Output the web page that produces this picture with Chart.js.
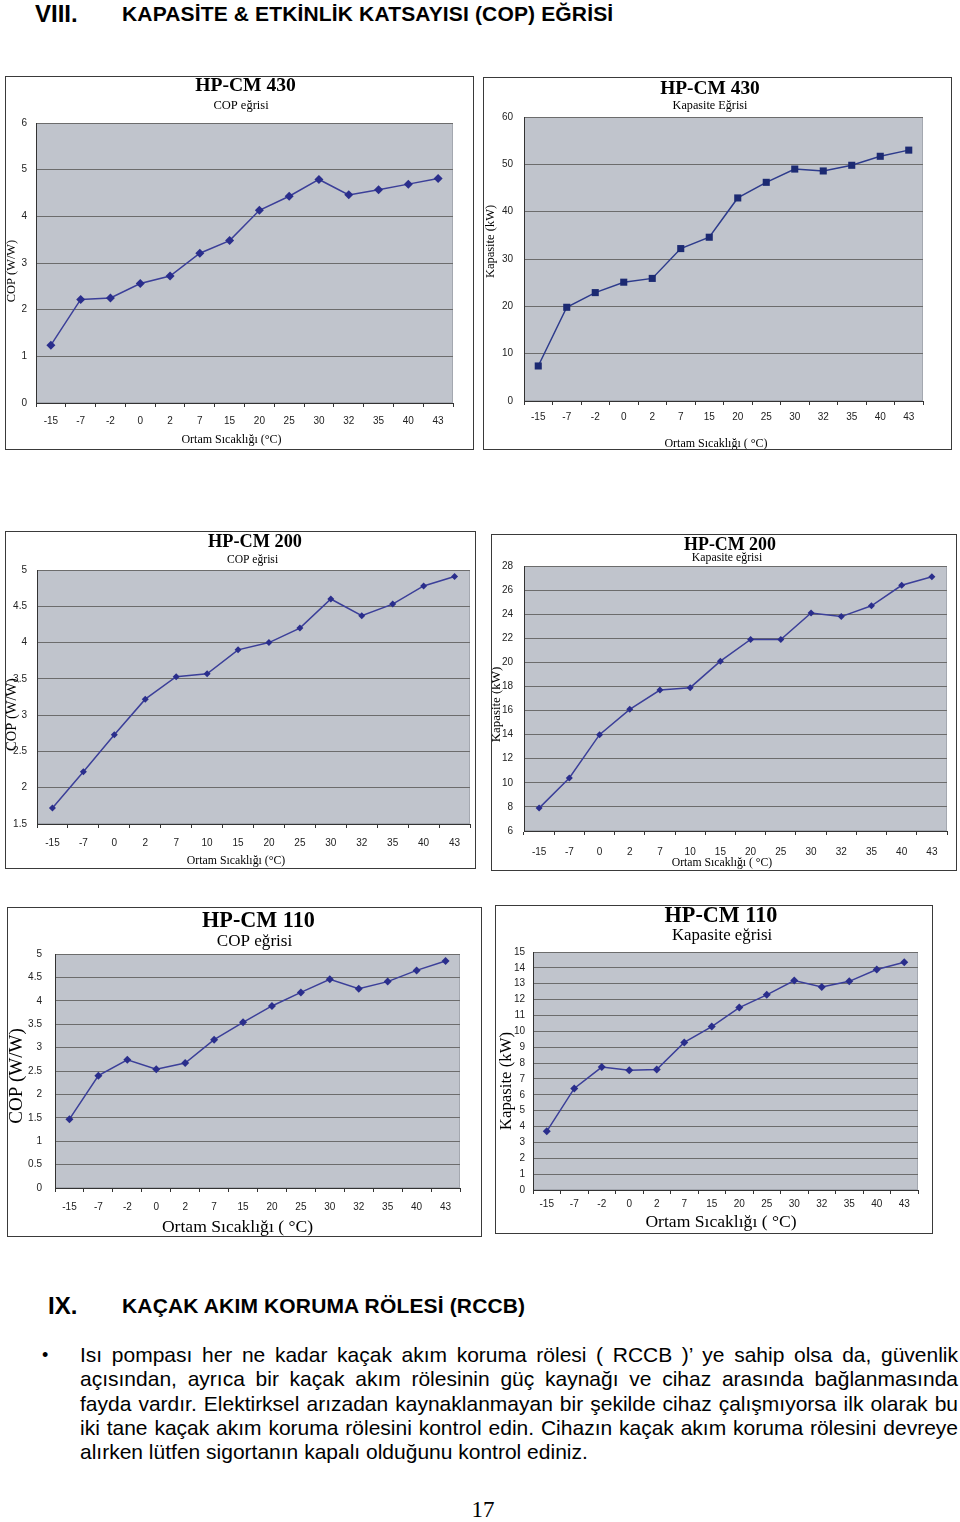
<!DOCTYPE html>
<html lang="tr">
<head>
<meta charset="utf-8">
<title>Kapasite & COP eğrisi</title>
<script src="https://cdn.jsdelivr.net/npm/chart.js@4.4.1/dist/chart.umd.min.js"></script>
<style>
  html, body { margin: 0; padding: 0; background: #fff; }
  #page { position: relative; width: 960px; height: 1522px; overflow: hidden; color: #000; }
  .frame { position: absolute; border: 1px solid #3a3a3a; background: #fff; box-sizing: border-box; }
  .frame canvas { display: block; }
  .head { position: absolute; font-family: "Liberation Sans", Arial, sans-serif; font-weight: bold; white-space: nowrap; }
  .para { position: absolute; left: 80px; top: 1343px; width: 878px;
          font-family: "Liberation Sans", Arial, sans-serif; font-size: 21px; line-height: 24.3px; }
  .para div { text-align: justify; text-align-last: justify; white-space: nowrap; }
  .para div.last { text-align-last: left; }
  .bullet { position: absolute; left: 42px; top: 1343px; font-family: "Liberation Sans", sans-serif; font-size: 18px; line-height: 24.3px; }
  .pageno { position: absolute; left: 0; width: 966px; top: 1497px; text-align: center; font-family: "Liberation Serif", serif; font-size: 23px; }
</style>
</head>
<body>
<div id="page">
  <div class="head" style="left:35px; top:0px; font-size:24px;">VIII.</div>
  <div class="head" style="left:122px; top:2px; font-size:21px; letter-spacing:0.15px;">KAPASİTE &amp; ETKİNLİK KATSAYISI (COP) EĞRİSİ</div>

  <div class="frame" id="f1"><canvas id="c1"></canvas></div>
  <div class="frame" id="f2"><canvas id="c2"></canvas></div>
  <div class="frame" id="f3"><canvas id="c3"></canvas></div>
  <div class="frame" id="f4"><canvas id="c4"></canvas></div>
  <div class="frame" id="f5"><canvas id="c5"></canvas></div>
  <div class="frame" id="f6"><canvas id="c6"></canvas></div>

  <div class="head" style="left:48px; top:1292px; font-size:24px;">IX.</div>
  <div class="head" style="left:122px; top:1294px; font-size:21px; letter-spacing:0.15px;">KAÇAK AKIM KORUMA RÖLESİ (RCCB)</div>

  <div class="bullet">•</div>
  <div class="para">
    <div>Isı pompası her ne kadar kaçak akım koruma rölesi ( RCCB )’ ye sahip olsa da, güvenlik</div>
    <div>açısından, ayrıca bir kaçak akım rölesinin güç kaynağı ve cihaz arasında bağlanmasında</div>
    <div>fayda vardır. Elektirksel arızadan kaynaklanmayan bir şekilde cihaz çalışmıyorsa ilk olarak bu</div>
    <div>iki tane kaçak akım koruma rölesini kontrol edin. Cihazın kaçak akım koruma rölesini devreye</div>
    <div class="last">alırken lütfen sigortanın kapalı olduğunu kontrol ediniz.</div>
  </div>
  <div class="pageno">17</div>
</div>

<script>
// ortam sıcaklıkları (x ekseni)
const tempsA = ['-15', '-7', '-2', '0', '2', '7', '15', '20', '25', '30', '32', '35', '40', '43'];
const tempsB = ['-15', '-7', '0', '2', '7', '10', '15', '20', '25', '30', '32', '35', '40', '43'];

// HP-CM 430
const cop430 = [1.24, 2.22, 2.25, 2.56, 2.72, 3.21, 3.48, 4.13, 4.43, 4.79, 4.46, 4.57, 4.69, 4.81];
const cap430 = [7.4, 19.8, 22.9, 25.1, 25.9, 32.2, 34.6, 42.9, 46.2, 49.0, 48.6, 49.8, 51.7, 53.0];

// HP-CM 200
const cop200 = [1.72, 2.22, 2.73, 3.22, 3.53, 3.57, 3.90, 4.00, 4.20, 4.60, 4.37, 4.53, 4.78, 4.91];
const cap200 = [7.9, 10.4, 14.0, 16.1, 17.7, 17.9, 20.1, 21.9, 21.9, 24.1, 23.8, 24.7, 26.4, 27.1];

// HP-CM 110
const cop110 = [1.47, 2.40, 2.74, 2.54, 2.67, 3.17, 3.54, 3.89, 4.18, 4.46, 4.26, 4.41, 4.65, 4.85];
const cap110 = [3.7, 6.4, 7.75, 7.55, 7.6, 9.3, 10.3, 11.5, 12.3, 13.2, 12.8, 13.15, 13.9, 14.35];

const SERIF = '"Liberation Serif", "Times New Roman", serif';
const SANS = '"Liberation Sans", Arial, sans-serif';

// gri çizim alanı
const plotBg = {
  id: 'plotBg',
  beforeDraw(chart) {
    const { ctx, chartArea: a } = chart;
    ctx.save();
    ctx.fillStyle = '#c0c4cc';
    ctx.fillRect(a.left, a.top, a.width, a.height);
    ctx.strokeStyle = '#a4a8b0';
    ctx.lineWidth = 1;
    ctx.strokeRect(a.left + 0.5, a.top + 0.5, a.width - 1, a.height - 1);
    ctx.restore();
  }
};

// başlık ve eksen yazıları (orijinaldeki gibi tam ortalanmamış)
const frameTexts = {
  id: 'frameTexts',
  afterDraw(chart, args, opts) {
    const { ctx } = chart;
    ctx.save();
    ctx.fillStyle = '#000';
    ctx.textAlign = 'center';
    ctx.textBaseline = 'middle';
    opts.items.forEach(t => {
      ctx.font = (t.bold ? 'bold ' : '') + t.size + 'px ' + SERIF;
      ctx.save();
      ctx.translate(t.x - opts.ox, t.y - opts.oy);
      if (t.rot) ctx.rotate(-Math.PI / 2);
      ctx.fillText(t.text, 0, 0);
      ctx.restore();
    });
    ctx.restore();
  }
};

const fmt = v => String(+Number(v).toFixed(2));

const specs = [
  { id: 'c1', frame: 'f1', box: [5, 76, 469, 374], plot: [36, 123, 453, 403],
    labels: tempsA, values: cop430, y: [0, 6, 1],
    title: ['HP-CM 430', 245.5, 86, 19.6], sub: ['COP eğrisi', 241, 106, 12.5],
    yTitle: ['COP (W/W)', 12, 271, 12.4], xTitle: ['Ortam Sıcaklığı (°C)', 231.5, 440, 12],
    tick: 10, yPad: 9, xPad: 8, marker: 'rectRot', r: 4.5, line: '#3b3f99', pt: '#2a2e8c' },
  { id: 'c2', frame: 'f2', box: [483, 77, 469, 373], plot: [524, 117, 923, 401],
    labels: tempsA, values: cap430, y: [0, 60, 10],
    title: ['HP-CM 430', 710, 89, 19.4], sub: ['Kapasite Eğrisi', 710, 106, 12.2],
    yTitle: ['Kapasite (kW)', 491, 241.5, 12.5], xTitle: ['Ortam Sıcaklığı ( °C)', 716, 444, 12],
    tick: 10, yPad: 11, xPad: 6, marker: 'rect', r: 5, line: '#2d3b8c', pt: '#1c2a72' },
  { id: 'c3', frame: 'f3', box: [5, 531, 471, 338], plot: [37, 570, 470, 824],
    labels: tempsB, values: cop200, y: [1.5, 5, 0.5],
    title: ['HP-CM 200', 255, 542, 18.3], sub: ['COP eğrisi', 252.5, 560, 11.6],
    yTitle: ['COP (W/W)', 12, 714.5, 14.5], xTitle: ['Ortam Sıcaklığı (°C)', 236, 861, 11.8],
    tick: 10, yPad: 10, xPad: 9, marker: 'rectRot', r: 3.5, line: '#3b3f99', pt: '#2a2e8c' },
  { id: 'c4', frame: 'f4', box: [491, 534, 466, 337], plot: [524, 566, 947, 831],
    labels: tempsB, values: cap200, y: [6, 28, 2],
    title: ['HP-CM 200', 730, 545, 17.9], sub: ['Kapasite eğrisi', 727, 558, 11.8],
    yTitle: ['Kapasite (kW)', 497, 704.5, 12.9], xTitle: ['Ortam Sıcaklığı ( °C)', 722, 863, 11.7],
    tick: 10, yPad: 11, xPad: 11, marker: 'rectRot', r: 3.5, line: '#3b3f99', pt: '#2a2e8c' },
  { id: 'c5', frame: 'f5', box: [7, 907, 475, 330], plot: [55, 954, 460, 1188],
    labels: tempsA, values: cop110, y: [0, 5, 0.5],
    title: ['HP-CM 110', 258.5, 921, 22.2], sub: ['COP eğrisi', 254.5, 941, 17.1],
    yTitle: ['COP (W/W)', 17, 1076, 19], xTitle: ['Ortam Sıcaklığı ( °C)', 237.5, 1227, 17.6],
    tick: 10, yPad: 13, xPad: 9, marker: 'rectRot', r: 4, line: '#3b3f99', pt: '#2a2e8c' },
  { id: 'c6', frame: 'f6', box: [495, 905, 438, 329], plot: [533, 952, 918, 1190],
    labels: tempsA, values: cap110, y: [0, 15, 1],
    title: ['HP-CM 110', 721, 916, 22.2], sub: ['Kapasite eğrisi', 722, 936, 16.8],
    yTitle: ['Kapasite (kW)', 507, 1081, 16.8], xTitle: ['Ortam Sıcaklığı ( °C)', 721, 1222, 17.6],
    tick: 10, yPad: 8, xPad: 4, marker: 'rectRot', r: 4, line: '#3b3f99', pt: '#2a2e8c' }
];

specs.forEach(s => {
  const [bl, bt, bw, bh] = s.box;
  const frame = document.getElementById(s.frame);
  frame.style.left = bl + 'px';
  frame.style.top = bt + 'px';
  frame.style.width = bw + 'px';
  frame.style.height = bh + 'px';

  const W = bw - 2, H = bh - 2;
  const ox = bl + 1, oy = bt + 1;
  const canvas = document.getElementById(s.id);
  canvas.width = W;
  canvas.height = H;
  canvas.style.width = W + 'px';
  canvas.style.height = H + 'px';

  const yWidth = s.plot[0] - ox;
  const xHeight = H - (s.plot[3] - oy);
  const padRight = W - (s.plot[2] - ox);
  const padTop = s.plot[1] - oy;

  const item = (a, extra) => Object.assign({ text: a[0], x: a[1], y: a[2], size: a[3] }, extra);

  new Chart(canvas.getContext('2d'), {
    type: 'line',
    data: {
      labels: s.labels,
      datasets: [{
        data: s.values,
        borderColor: s.line,
        borderWidth: 1.5,
        backgroundColor: s.pt,
        pointStyle: s.marker,
        pointRadius: s.r,
        pointBorderWidth: 0,
        pointBackgroundColor: s.pt,
        tension: 0,
        fill: false
      }]
    },
    options: {
      responsive: false,
      animation: false,
      layout: { padding: { left: 0, top: padTop, right: padRight, bottom: 0 } },
      plugins: {
        legend: { display: false },
        tooltip: { enabled: false },
        title: { display: false },
        frameTexts: {
          ox, oy,
          items: [
            item(s.title, { bold: true }),
            item(s.sub),
            item(s.yTitle, { rot: true }),
            item(s.xTitle)
          ]
        }
      },
      scales: {
        x: {
          type: 'category',
          offset: true,
          afterFit: scale => { scale.height = xHeight; },
          grid: { offset: true, drawOnChartArea: false, drawTicks: true, tickLength: 4, tickColor: '#333', lineWidth: 1 },
          border: { display: true, color: '#333', width: 1 },
          ticks: { color: '#222', font: { family: SANS, size: s.tick }, padding: s.xPad, maxRotation: 0, autoSkip: false }
        },
        y: {
          min: s.y[0], max: s.y[1],
          afterFit: scale => { scale.width = yWidth; },
          grid: { color: '#6c6c6c', lineWidth: 1, drawTicks: false },
          border: { display: true, color: '#333', width: 1 },
          ticks: { stepSize: s.y[2], color: '#222', font: { family: SANS, size: s.tick }, padding: s.yPad, autoSkip: false, callback: fmt }
        }
      }
    },
    plugins: [plotBg, frameTexts]
  });
});
</script>
</body>
</html>
